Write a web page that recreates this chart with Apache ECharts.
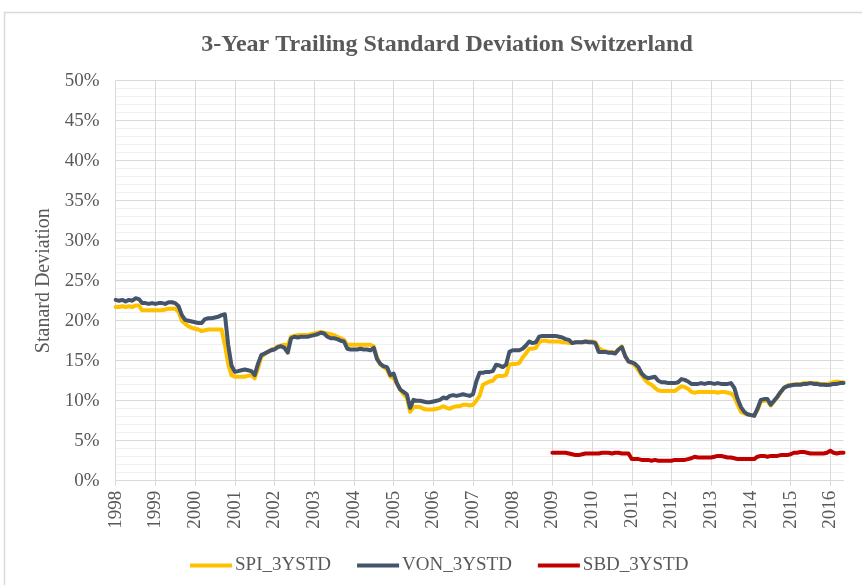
<!DOCTYPE html>
<html>
<head>
<meta charset="utf-8">
<script src="https://cdn.jsdelivr.net/npm/echarts@6/dist/echarts.min.js"></script>
<style>
  html, body { margin: 0; padding: 0; background: #ffffff; }
  #chart { width: 862px; height: 585px; }
</style>
</head>
<body>
<div id="chart"></div>
<script>
// Monthly observations, January 1998 to May 2016
const startYear = 1998;
const monthCount = 221;
const categories = [];
for (let i = 0; i < monthCount; i++) {
  const y = startYear + Math.floor(i / 12);
  const m = (i % 12) + 1;
  categories.push(y + '-' + String(m).padStart(2, '0'));
}

// Y-axis tick values (percent)
const yTicks = [0, 5, 10, 15, 20, 25, 30, 35, 40, 45, 50];

// 3-year trailing standard deviation, percent
const spi = [
  21.7, 21.7, 21.8, 21.7, 21.8, 21.7, 21.9, 21.9, 21.3, 21.3, 21.3, 21.3,
  21.3, 21.3, 21.3, 21.4, 21.5, 21.5, 21.5, 21.1, 20.0, 19.6, 19.3, 19.1,
  19.0, 18.9, 18.7, 18.8, 18.9, 18.9, 18.9, 18.9, 18.9, 17.0, 14.6, 13.2,
  13.0, 13.0, 13.0, 13.0, 13.1, 13.2, 12.8, 14.0, 15.5, 15.8, 16.1, 16.4,
  16.5, 16.8, 16.9, 17.0, 16.9, 18.0, 18.1, 18.2, 18.2, 18.2, 18.2, 18.3,
  18.4, 18.5, 18.6, 18.5, 18.4, 18.3, 18.2, 18.0, 17.8, 17.6, 17.0, 17.0,
  17.0, 17.0, 17.0, 17.0, 17.0, 17.0, 16.8, 15.4, 14.5, 14.2, 13.9, 13.0,
  12.8, 12.1, 11.4, 10.8, 10.4, 8.6, 9.2, 9.2, 9.2, 9.0, 8.9, 8.9,
  8.9, 9.0, 9.1, 9.3, 9.1, 9.0, 9.2, 9.3, 9.3, 9.5, 9.5, 9.4,
  9.5, 10.0, 10.6, 12.0, 12.2, 12.4, 12.5, 13.0, 13.1, 13.1, 13.2, 14.5,
  14.6, 14.6, 14.7, 15.4, 15.9, 16.5, 16.5, 16.6, 17.3, 17.5, 17.5, 17.4,
  17.4, 17.4, 17.4, 17.3, 17.3, 17.2, 17.2, 17.3, 17.3, 17.3, 17.4, 17.4,
  17.4, 17.3, 16.6, 16.3, 16.2, 16.1, 16.1, 16.0, 16.4, 16.8, 15.6, 14.9,
  14.7, 14.4, 13.8, 13.2, 12.6, 12.2, 12.0, 11.6, 11.3, 11.2, 11.2, 11.2,
  11.2, 11.2, 11.5, 11.8, 11.7, 11.5, 11.1, 11.0, 11.1, 11.1, 11.1, 11.1,
  11.1, 11.1, 11.0, 11.1, 11.1, 11.0, 10.9, 10.5, 9.5, 8.6, 8.4, 8.3,
  8.2, 8.2, 8.8, 9.9, 10.0, 10.0, 9.4, 9.9, 10.4, 11.0, 11.6, 11.9,
  12.0, 12.0, 12.1, 12.1, 12.2, 12.2, 12.2, 12.2, 12.2, 12.1, 12.1, 12.1,
  12.2, 12.3, 12.4, 12.3, 12.3
];

const von = [
  22.6, 22.5, 22.6, 22.4, 22.6, 22.5, 22.8, 22.7, 22.2, 22.2, 22.1, 22.2,
  22.1, 22.2, 22.2, 22.1, 22.3, 22.3, 22.2, 21.8, 20.7, 20.1, 20.0, 19.9,
  19.8, 19.7, 19.7, 20.2, 20.3, 20.3, 20.4, 20.5, 20.7, 20.8, 17.0, 14.4,
  13.6, 13.7, 13.8, 13.9, 13.8, 13.7, 13.2, 14.6, 15.7, 15.9, 16.1, 16.3,
  16.4, 16.7, 16.8, 16.6, 16.0, 17.8, 18.0, 17.9, 18.0, 18.0, 18.0, 18.1,
  18.2, 18.3, 18.5, 18.4, 18.0, 17.8, 17.8, 17.7, 17.5, 17.4, 16.5, 16.4,
  16.4, 16.4, 16.5, 16.4, 16.4, 16.3, 16.6, 15.2, 14.6, 14.3, 14.2, 13.2,
  13.4, 12.2, 11.4, 11.1, 10.8, 9.1, 10.1, 10.0, 10.0, 9.9, 9.8, 9.8,
  9.9, 10.0, 10.1, 10.4, 10.3, 10.6, 10.7, 10.6, 10.7, 10.8, 10.7, 10.6,
  10.8, 12.4, 13.5, 13.5, 13.6, 13.6, 13.7, 14.5, 14.4, 14.2, 14.5, 16.1,
  16.3, 16.3, 16.3, 16.5, 16.9, 17.4, 17.2, 17.3, 18.0, 18.1, 18.1, 18.1,
  18.1, 18.1, 18.0, 17.9, 17.7, 17.6, 17.2, 17.3, 17.3, 17.3, 17.4, 17.3,
  17.3, 17.2, 16.1, 16.1, 16.1, 16.0, 16.0, 15.9, 16.4, 16.7, 15.6, 14.9,
  14.8, 14.6, 14.2, 13.4, 13.0, 12.8, 12.9, 13.0, 12.5, 12.3, 12.3, 12.2,
  12.2, 12.2, 12.3, 12.7, 12.6, 12.4, 12.1, 12.1, 12.1, 12.2, 12.1, 12.2,
  12.2, 12.1, 12.2, 12.1, 12.1, 12.1, 12.2, 11.6, 10.2, 9.2, 8.6, 8.3,
  8.2, 8.1, 9.0, 10.1, 10.2, 10.2, 9.5, 10.0, 10.5, 11.1, 11.6, 11.8,
  11.9, 12.0, 12.0, 12.0, 12.1, 12.1, 12.2, 12.1, 12.1, 12.0, 12.0, 11.95,
  12.0, 12.1, 12.1, 12.2, 12.2
];

// SBD series begins in January 2009
const sbdStartIndex = 132;
const sbdValues = [
  3.5, 3.5, 3.5, 3.5, 3.5, 3.4, 3.3, 3.2, 3.2, 3.3, 3.4, 3.4,
  3.4, 3.4, 3.4, 3.5, 3.5, 3.5, 3.4, 3.5, 3.5, 3.4, 3.4, 3.4,
  2.7, 2.7, 2.7, 2.6, 2.6, 2.6, 2.5, 2.6, 2.5, 2.5, 2.5, 2.5,
  2.5, 2.6, 2.6, 2.6, 2.6, 2.7, 2.8, 3.0, 2.9, 2.9, 2.9, 2.9,
  2.9, 3.0, 3.1, 3.1, 3.0, 2.9, 2.9, 2.8, 2.7, 2.7, 2.7, 2.7,
  2.7, 2.7, 3.0, 3.1, 3.1, 3.0, 3.1, 3.1, 3.1, 3.2, 3.2, 3.2,
  3.3, 3.5, 3.5, 3.6, 3.6, 3.5, 3.4, 3.4, 3.4, 3.4, 3.4, 3.5,
  3.75, 3.5, 3.4, 3.5, 3.5
];
const sbd = categories.map((c, i) => (i < sbdStartIndex ? '-' : sbdValues[i - sbdStartIndex]));

const seriesNames = ['SPI_3YSTD', 'VON_3YSTD', 'SBD_3YSTD'];
const seriesColors = ['#FFC000', '#44546A', '#C00000'];

const FONT = '"Liberation Serif", "Times New Roman", serif';
const TEXT = '#595959';

const chart = echarts.init(document.getElementById('chart'), null, { renderer: 'canvas' });

function lineSeries(idx, data) {
  return {
    name: seriesNames[idx],
    type: 'line',
    data: data,
    symbol: 'none',
    smooth: false,
    connectNulls: false,
    lineStyle: { color: seriesColors[idx], width: 4, join: 'round', cap: 'round' },
    itemStyle: { color: seriesColors[idx] },
    emphasis: { disabled: true },
    animation: false
  };
}

chart.setOption({
  animation: false,
  backgroundColor: '#ffffff',
  textStyle: { fontFamily: FONT },
  graphic: [{
    type: 'rect',
    shape: { x: 4.5, y: 12.5, width: 900, height: 640 },
    style: { fill: 'none', stroke: '#d9d9d9', lineWidth: 1.5 },
    silent: true,
    z: -10
  }],
  title: {
    text: '3-Year Trailing Standard Deviation Switzerland',
    left: 442,
    textAlign: 'center',
    top: 28,
    textStyle: { fontFamily: FONT, fontSize: 24, fontWeight: 'bold', color: TEXT }
  },
  legend: {
    data: seriesNames,
    left: 185,
    top: 551,
    icon: 'rect',
    itemWidth: 42,
    itemHeight: 4,
    itemGap: 26,
    textStyle: { fontFamily: FONT, fontSize: 19, color: TEXT, padding: [0, 0, 0, -2] }
  },
  grid: { left: 115.7, right: 18.5, top: 80.7, bottom: 104.3, containLabel: false },
  xAxis: {
    type: 'category',
    data: categories,
    boundaryGap: false,
    axisLine: { show: true, lineStyle: { color: '#d9d9d9', width: 1 } },
    axisTick: { show: true, interval: 11, length: 5, lineStyle: { color: '#d9d9d9' } },
    splitLine: { show: true, interval: 11, lineStyle: { color: '#d9d9d9', width: 1 } },
    axisLabel: {
      interval: 11,
      rotate: 90,
      margin: 10,
      fontFamily: FONT,
      fontSize: 19,
      color: TEXT,
      formatter: v => v.slice(0, 4)
    }
  },
  yAxis: {
    type: 'value',
    min: yTicks[0],
    max: yTicks[yTicks.length - 1],
    interval: 5,
    name: 'Stanard Deviation',
    nameLocation: 'middle',
    nameRotate: 90,
    nameGap: 62,
    nameTextStyle: { fontFamily: FONT, fontSize: 20, color: TEXT },
    axisLine: { show: false },
    axisTick: { show: false },
    axisLabel: { margin: 16, fontFamily: FONT, fontSize: 19, color: TEXT, formatter: '{value}%' },
    splitLine: { show: true, lineStyle: { color: '#d9d9d9', width: 1 } },
    minorTick: { show: false, splitNumber: 5 },
    minorSplitLine: { show: true, lineStyle: { color: '#f0f0f0', width: 1 } }
  },
  series: [lineSeries(0, spi), lineSeries(1, von), lineSeries(2, sbd)]
});
</script>
</body>
</html>
